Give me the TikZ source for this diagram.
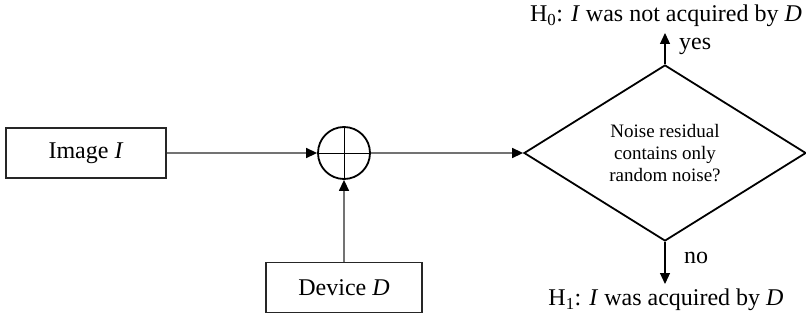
\documentclass[tikz,border=0pt]{standalone}
\usepackage{fontspec}
\setmainfont{Liberation Serif}
\usetikzlibrary{shapes.geometric,arrows.meta}
\begin{document}
\begin{tikzpicture}[x=1pt,y=-1pt,
  box/.style={draw=black!85, line width=1.2pt, minimum width=160pt, minimum height=50pt, inner sep=0pt, font=\fontsize{24}{28}\selectfont},
  conn/.style={draw=black!55, line width=1.4pt, -{Triangle[length=11pt,width=10pt,color=black]}},
  lbl/.style={font=\fontsize{24}{28}\selectfont, inner sep=0pt},
  decision/.style={draw=black, line width=1.8pt, shape=diamond, minimum width=282pt, minimum height=176pt, inner sep=0pt, align=center, font=\fontsize{19}{21.7}\selectfont},
  summer/.style={draw=black, line width=1.8pt, circle, minimum size=52pt, inner sep=0pt}]
\useasboundingbox (0,0) rectangle (806,321);
\node[box] (img) at (86,153) {Image \textit{I}};
\node[box, minimum width=156pt] (dev) at (344,287.5) {Device \textit{D}};
\node[summer] (sum) at (344,153) {};
\draw[line width=1pt] (sum.north) -- (sum.south) (sum.west) -- (sum.east);
\node[decision] (dec) at (665,153) {Noise residual\\contains only\\random noise?};
\coordinate (yesend) at (665,33);
\coordinate (noend) at (665,284);
\draw[conn] (img.east) -- (sum.west);
\draw[conn] (dev.north) -- (sum.south);
\draw[conn] (sum.east) -- (dec.west);
\draw[conn, draw=black, line width=1.2pt] (dec.north) -- (yesend);
\draw[conn, draw=black, line width=1.2pt] (dec.south) -- (noend);
\node[lbl, anchor=west] (yes) at (679,46) {yes};
\node[lbl, anchor=west] (no) at (684,258) {no};
\node[lbl] (h0) at (666,16) {H\textsubscript{0}: \textit{I} was not acquired by \textit{D}};
\node[lbl] (h1) at (666,300) {H\textsubscript{1}: \textit{I} was acquired by \textit{D}};
\end{tikzpicture}
\end{document}
